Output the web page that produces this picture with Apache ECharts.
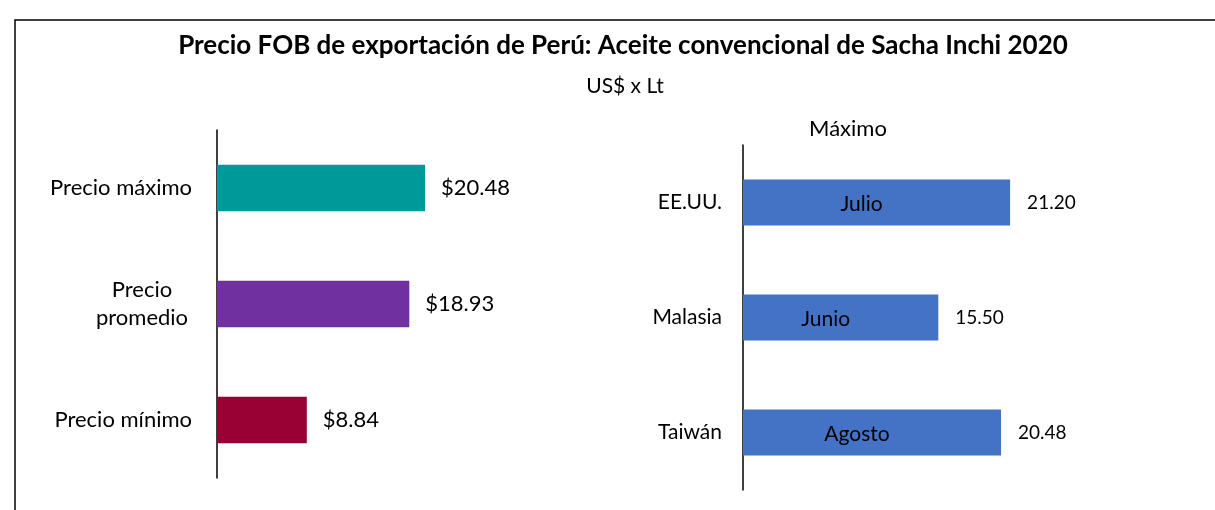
<!DOCTYPE html>
<html>
<head>
    <meta charset="utf-8" />
    <title>Precio FOB Sacha Inchi</title>
    <script src="https://cdn.jsdelivr.net/npm/echarts@6/dist/echarts.min.js"></script>
    <style>
        body { margin: 0; background: #fff; }
        #main { width: 1215px; height: 510px; }
    </style>
</head>
<body>
<div id="main"></div>
<script type="text/javascript">
    // panel izquierdo: precios
    var precioCats = ['Precio máximo', 'Precio promedio', 'Precio mínimo'];
    var precioVals = [20.48, 18.93, 8.84];
    var precioColors = ['#009999', '#7030A0', '#990033'];

    // panel derecho: maximo por pais
    var paisCats = ['EE.UU.', 'Malasia', 'Taiwán'];
    var paisVals = [21.20, 15.50, 20.48];
    var paisMeses = ['Julio', 'Junio', 'Agosto'];

    var font = 'Lato, "Open Sans", sans-serif';

    var option = {
        backgroundColor: '#FFFFFF',
        animation: false,
        title: [{
            text: 'Precio FOB de exportación de Perú: Aceite convencional de Sacha Inchi 2020',
            left: 618,
            textAlign: 'center',
            top: 28,
            textStyle: { fontFamily: font, fontSize: 26, fontWeight: 'bold', color: '#000' }
        }, {
            text: 'US$ x Lt',
            left: 620,
            textAlign: 'center',
            top: 71,
            textStyle: { fontFamily: font, fontSize: 21, fontWeight: 'normal', color: '#000' }
        }, {
            text: 'Máximo',
            left: 843,
            top: 113,
            textAlign: 'center',
            textStyle: { fontFamily: font, fontSize: 22, fontWeight: 'normal', color: '#000' }
        }],
        graphic: [{
            type: 'rect',
            shape: { x: 15, y: 20, width: 1300, height: 600 },
            style: { fill: 'none', stroke: '#000', lineWidth: 1.5 },
            silent: true
        }],
        grid: [
            { left: 217, top: 130, width: 254, height: 348 },
            { left: 743, top: 145, width: 315, height: 345 }
        ],
        xAxis: [
            { gridIndex: 0, type: 'value', min: 0, max: 25, show: false },
            { gridIndex: 1, type: 'value', min: 0, max: 25, show: false }
        ],
        yAxis: [{
            gridIndex: 0,
            type: 'category',
            inverse: true,
            data: precioCats,
            axisLine: { lineStyle: { color: '#000', width: 1.5 } },
            axisTick: { show: false },
            axisLabel: {
                margin: 25,
                fontFamily: font,
                fontSize: 22,
                color: '#000',
                formatter: function (v) {
                    if (v === 'Precio promedio') return '{c|Precio}\n{c|promedio}';
                    return v;
                },
                rich: {
                    c: { width: 100, align: 'center', fontFamily: font, fontSize: 22, lineHeight: 28, color: '#000' }
                }
            }
        }, {
            gridIndex: 1,
            type: 'category',
            inverse: true,
            data: paisCats,
            axisLine: { lineStyle: { color: '#000', width: 1.5 } },
            axisTick: { show: false },
            axisLabel: { margin: 21, fontFamily: font, fontSize: 21, color: '#000' }
        }],
        series: [{
            type: 'bar',
            xAxisIndex: 0,
            yAxisIndex: 0,
            barCategoryGap: '60%',
            data: precioVals.map(function (v, i) {
                return { value: v, itemStyle: { color: precioColors[i] } };
            }),
            label: {
                show: true,
                position: 'right',
                distance: 16,
                fontFamily: font,
                fontSize: 22,
                color: '#000',
                formatter: function (p) { return '$' + p.value.toFixed(2); }
            }
        }, {
            type: 'bar',
            xAxisIndex: 1,
            yAxisIndex: 1,
            barCategoryGap: '60%',
            itemStyle: { color: '#4472C4' },
            data: paisVals,
            label: {
                show: true,
                position: 'right',
                distance: 17,
                fontFamily: font,
                fontSize: 19,
                color: '#000',
                formatter: function (p) { return p.value.toFixed(2); }
            }
        }, {
            // etiquetas de mes dentro de las barras
            type: 'bar',
            xAxisIndex: 1,
            yAxisIndex: 1,
            barGap: '-100%',
            barCategoryGap: '60%',
            itemStyle: { color: 'transparent' },
            data: paisVals,
            z: 3,
            label: {
                show: true,
                position: 'inside',
                offset: [-15, 2],
                fontFamily: font,
                fontSize: 21,
                color: '#000',
                formatter: function (p) { return paisMeses[p.dataIndex]; }
            }
        }]
    };

    var myChart = echarts.init(document.getElementById('main'));
    myChart.setOption(option);
</script>
</body>
</html>
